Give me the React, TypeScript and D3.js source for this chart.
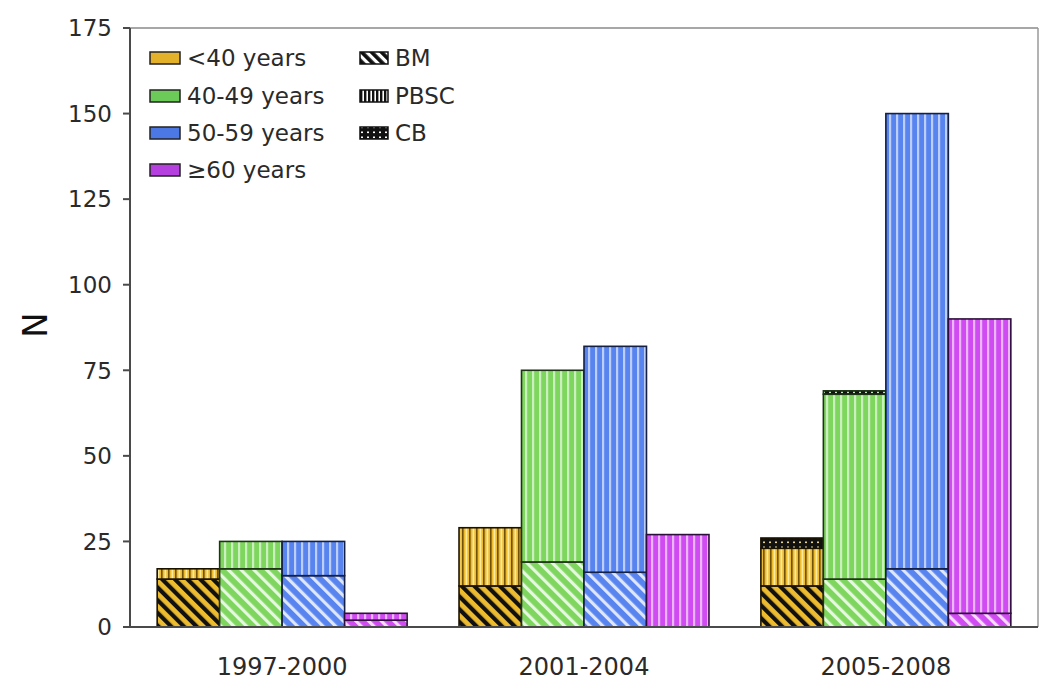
import React from "react";
import * as d3 from "d3";

const periods = ["1997-2000", "2001-2004", "2005-2008"];
const ageGroups = ["<40 years", "40-49 years", "50-59 years", "≥60 years"];
const sources = ["BM", "PBSC", "CB"];
// values[period][ageGroup]
const bmValues = [
  [14, 17, 15, 2],
  [12, 19, 16, 0],
  [12, 14, 17, 4],
];
const pbscValues = [
  [3, 8, 10, 2],
  [17, 56, 66, 27],
  [11, 54, 133, 86],
];
const cbValues = [
  [0, 0, 0, 0],
  [0, 0, 0, 0],
  [3, 1, 0, 0],
];
const yTicks = [0, 25, 50, 75, 100, 125, 150, 175];

const ageColors = ["#EDBB2E", "#7ED65E", "#5884F0", "#D04CF2"];
const ageLegendColors = ["#E3B22A", "#6CCB58", "#4C78E6", "#B63FE0"];
const ageStroke = ["#1a1200", "#1d3316", "#142044", "#2e0e3a"];

const W = 1050;
const H = 699;
const left = 130;
const right = 1038;
const top = 28;
const bottom = 627;
const FONT = "'DejaVu Sans', Verdana, sans-serif";

export default function App() {
  const x = d3.scaleBand<string>().domain(periods).range([left, right]).paddingInner(0.172).paddingOuter(0.09);
  const xi = d3.scaleBand<string>().domain(ageGroups).range([0, x.bandwidth()]).padding(0);
  const y = d3.scaleLinear().domain([0, 175]).range([bottom, top]);

  const srcData = [bmValues, pbscValues, cbValues];

  const patterns: React.ReactNode[] = [];
  ageGroups.forEach((_, a) => {
    const c = ageColors[a];
    const isOrange = a === 0;
    patterns.push(
      <pattern key={`bm${a}`} id={`p-${a}-BM`} patternUnits="userSpaceOnUse" width={9} height={9} patternTransform="rotate(-45)">
        <rect width={9} height={9} fill={c} />
        <rect x={0} width={isOrange ? 4.2 : 3.2} height={9} fill={isOrange ? "#111" : "#ffffff"} opacity={isOrange ? 1 : 0.8} />
      </pattern>
    );
    patterns.push(
      <pattern key={`pb${a}`} id={`p-${a}-PBSC`} patternUnits="userSpaceOnUse" width={7} height={7}>
        <rect width={7} height={7} fill={c} />
        {isOrange ? (
          <>
            <rect x={0} width={1.6} height={7} fill="#5a3e00" opacity={0.85} />
            <rect x={3.5} width={1.8} height={7} fill="#fff2b0" opacity={0.85} />
          </>
        ) : (
          <rect x={0} width={2.2} height={7} fill="#ffffff" opacity={0.6} />
        )}
      </pattern>
    );
    patterns.push(
      <pattern key={`cb${a}`} id={`p-${a}-CB`} patternUnits="userSpaceOnUse" width={6} height={5}>
        <rect width={6} height={5} fill="#111" />
        <rect x={1} y={1.5} width={2} height={1.6} fill={isOrange ? "#ffe9a0" : "#d8ffd0"} opacity={0.9} />
      </pattern>
    );
  });
  // legend patterns (black on white)
  patterns.push(
    <pattern key="lbm" id="lg-BM" patternUnits="userSpaceOnUse" width={7} height={7} patternTransform="rotate(-45)">
      <rect width={7} height={7} fill="#fff" />
      <rect x={0} width={3.8} height={7} fill="#111" />
    </pattern>
  );
  patterns.push(
    <pattern key="lpb" id="lg-PBSC" patternUnits="userSpaceOnUse" width={4} height={4}>
      <rect width={4} height={4} fill="#fff" />
      <rect x={0} width={2.4} height={4} fill="#111" />
    </pattern>
  );
  patterns.push(
    <pattern key="lcb" id="lg-CB" patternUnits="userSpaceOnUse" width={6} height={5}>
      <rect width={6} height={5} fill="#111" />
      <rect x={1} y={1.5} width={2} height={1.6} fill="#fff" />
    </pattern>
  );

  const bars: React.ReactNode[] = [];
  periods.forEach((p, pi) => {
    ageGroups.forEach((g, a) => {
      let base = 0;
      const bx = (x(p) ?? 0) + (xi(g) ?? 0);
      const bw = xi.bandwidth();
      sources.forEach((s, si) => {
        const v = srcData[si][pi][a];
        if (v <= 0) return;
        const y0 = y(base);
        const y1 = y(base + v);
        bars.push(
          <rect
            key={`${pi}-${a}-${s}`}
            x={bx}
            y={y1}
            width={bw}
            height={y0 - y1}
            fill={`url(#p-${a}-${s})`}
            stroke={ageStroke[a]}
            strokeWidth={1.6}
          />
        );
        base += v;
      });
    });
  });

  const rowY = [58, 96, 133, 170];

  return (
    <svg width={W} height={H} viewBox={`0 0 ${W} ${H}`} style={{ display: "block", position: "absolute", left: 0, top: 0, background: "#fff" }}>
      <defs>{patterns}</defs>
      <rect x={0} y={0} width={W} height={H} fill="#fff" />
      {/* plot frame */}
      <line x1={left} x2={right} y1={top} y2={top} stroke="#8a8a8a" strokeWidth={1.5} />
      <line x1={right} x2={right} y1={top} y2={bottom} stroke="#9a9a9a" strokeWidth={1.5} />
      {bars}
      {/* axes */}
      <line x1={left} x2={left} y1={top} y2={bottom} stroke="#4a4a4a" strokeWidth={2} />
      <line x1={left - 6} x2={right} y1={bottom} y2={bottom} stroke="#4a4a4a" strokeWidth={2} />
      {yTicks.map((t) => (
        <g key={t}>
          <line x1={left - 7} x2={left} y1={y(t)} y2={y(t)} stroke="#4a4a4a" strokeWidth={2} />
          <text x={112} y={y(t)} dy="0.36em" textAnchor="end" fontFamily={FONT} fontSize={23} fill="#2a2a2a">
            {t}
          </text>
        </g>
      ))}
      {periods.map((p) => (
        <text key={p} x={(x(p) ?? 0) + x.bandwidth() / 2} y={666} dy="0.36em" textAnchor="middle" fontFamily={FONT} fontSize={24} fill="#2a2a2a">
          {p}
        </text>
      ))}
      <text transform="translate(35,325) rotate(-90)" textAnchor="middle" dy="0.36em" fontFamily={FONT} fontSize={34} fill="#111">
        N
      </text>
      {/* legend */}
      {ageGroups.map((g, a) => (
        <g key={g}>
          <rect x={150} y={rowY[a] - 6} width={30} height={12} fill={ageLegendColors[a]} stroke="#222" strokeWidth={1.5} />
          <text x={187} y={rowY[a]} dy="0.36em" fontFamily={FONT} fontSize={23} fill="#2a2a2a">
            {g}
          </text>
        </g>
      ))}
      {sources.map((s, si) => (
        <g key={s}>
          <rect x={360} y={rowY[si] - 6} width={28} height={12} fill={`url(#lg-${s})`} stroke="#111" strokeWidth={1.5} />
          <text x={395} y={rowY[si]} dy="0.36em" fontFamily={FONT} fontSize={23} fill="#2a2a2a">
            {s}
          </text>
        </g>
      ))}
    </svg>
  );
}
